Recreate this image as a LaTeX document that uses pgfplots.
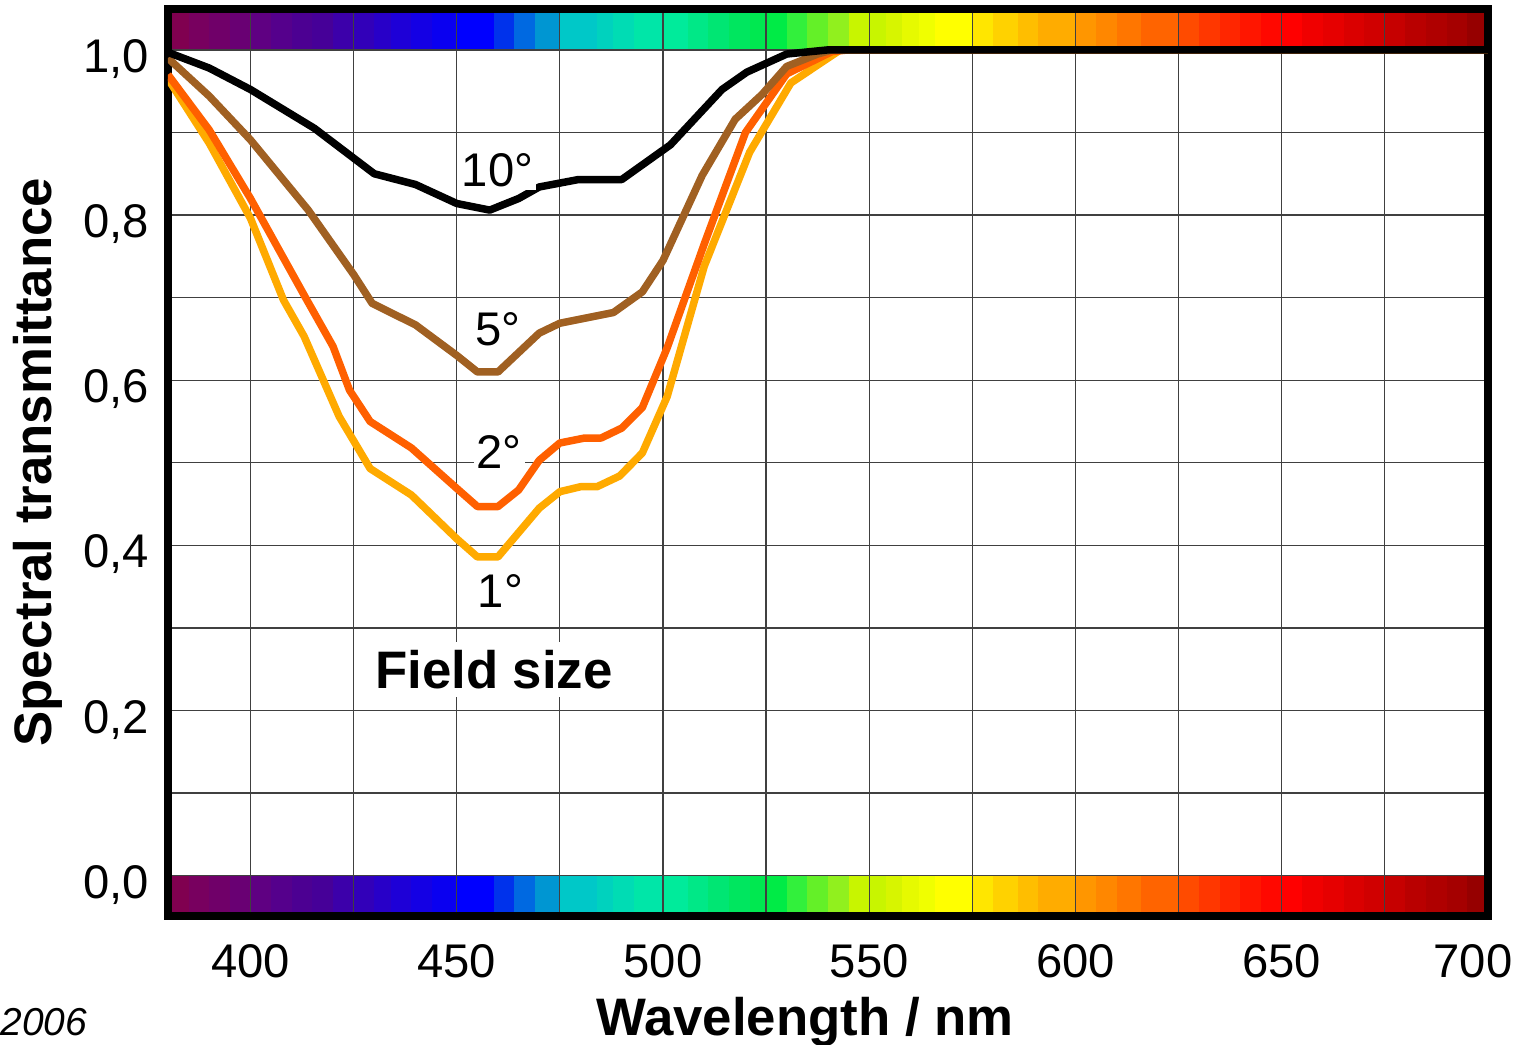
\documentclass[border=0pt]{standalone}
\usepackage{fontspec}
\setmainfont{Liberation Sans}
\usepackage{pgfplots}
\pgfplotsset{compat=1.18}

\definecolor{cone}{RGB}{255,170,0}
\definecolor{ctwo}{RGB}{255,96,0}
\definecolor{cfive}{RGB}{160,96,34}

\newcommand{\band}[5]{%
  \addplot[on layer=axis background, draw=none, fill={rgb,255:red,#3;green,#4;blue,#5}, forget plot]
    coordinates {(#1,1) (#2,1) (#2,1.07) (#1,1.07)} -- cycle;
  \addplot[on layer=axis background, draw=none, fill={rgb,255:red,#3;green,#4;blue,#5}, forget plot]
    coordinates {(#1,-0.07) (#2,-0.07) (#2,0) (#1,0)} -- cycle;
}

\begin{document}
\begin{tikzpicture}
\begin{axis}[
  set layers=standard,
  scale only axis, width=475.2pt, height=326.5pt,
  xmin=380, xmax=700, ymin=-0.0484, ymax=1.0499,
  xtick={400,450,500,550,600,650},
  extra x ticks={700},
  extra x tick style={grid=none, xticklabel style={xshift=-5.4pt}},
  minor xtick={425,475,525,575,625,675},
  ytick={0,0.2,0.4,0.6,0.8,1},
  minor ytick={0.1,0.3,0.5,0.7,0.9},
  grid=both,
  major grid style={black!75, line width=0.45pt},
  minor grid style={black!75, line width=0.45pt},
  major tick length=0pt, minor tick length=0pt,
  axis line style={line width=2.9pt},
  clip mode=individual,
  xticklabel style={font=\fontsize{17}{19}\selectfont, yshift=-7pt, /pgf/number format/assume math mode=true},
  yticklabel style={font=\fontsize{17}{19}\selectfont, xshift=-3.4pt, yshift=-3.3pt,
    /pgf/number format/.cd, fixed, fixed zerofill, precision=1, use comma, assume math mode=true},
]
\band{380}{385.3}{128}{0}{80}
\band{385}{390.3}{120}{0}{95}
\band{390}{395.3}{112}{0}{105}
\band{395}{400.3}{105}{0}{115}
\band{400}{405.3}{95}{0}{130}
\band{405}{410.3}{85}{0}{140}
\band{410}{415.3}{76}{0}{146}
\band{415}{420.3}{70}{0}{152}
\band{420}{425.3}{60}{0}{170}
\band{425}{430.3}{50}{0}{185}
\band{430}{434.3}{40}{0}{200}
\band{434}{439.3}{30}{0}{215}
\band{439}{444.3}{20}{0}{228}
\band{444}{450.3}{10}{0}{240}
\band{450}{459.3}{0}{0}{255}
\band{459}{464.3}{0}{50}{235}
\band{464}{469.3}{0}{105}{225}
\band{469}{475.3}{0}{150}{210}
\band{475}{484.3}{0}{200}{200}
\band{484}{488.3}{0}{210}{190}
\band{488}{493.3}{0}{220}{180}
\band{493}{500.3}{0}{230}{168}
\band{500}{506.3}{0}{235}{155}
\band{506}{511.3}{0}{232}{135}
\band{511}{516.3}{0}{230}{115}
\band{516}{521.3}{0}{230}{95}
\band{521}{525.3}{0}{232}{80}
\band{525}{530.3}{0}{235}{70}
\band{530}{535.3}{50}{240}{60}
\band{535}{540.3}{100}{240}{40}
\band{540}{545.3}{145}{240}{30}
\band{545}{554.3}{200}{245}{0}
\band{554}{558.3}{215}{245}{0}
\band{558}{562.3}{230}{250}{0}
\band{562}{566.3}{240}{255}{0}
\band{566}{575.3}{255}{255}{0}
\band{575}{580.3}{255}{230}{0}
\band{580}{586.3}{255}{210}{0}
\band{586}{591.3}{255}{190}{0}
\band{591}{600.3}{255}{172}{0}
\band{600}{605.3}{255}{150}{0}
\band{605}{610.3}{255}{135}{0}
\band{610}{616.3}{255}{118}{0}
\band{616}{625.3}{255}{100}{0}
\band{625}{630.3}{255}{75}{0}
\band{630}{635.3}{255}{55}{0}
\band{635}{640.3}{255}{38}{0}
\band{640}{645.3}{255}{22}{0}
\band{645}{650.3}{255}{8}{0}
\band{650}{655.3}{255}{0}{0}
\band{655}{660.3}{240}{0}{0}
\band{660}{665.3}{230}{0}{0}
\band{665}{670.3}{218}{0}{0}
\band{670}{675.3}{208}{0}{0}
\band{675}{680.3}{198}{0}{0}
\band{680}{685.3}{185}{0}{0}
\band{685}{690.3}{175}{0}{0}
\band{690}{695.3}{165}{0}{0}
\band{695}{701}{150}{0}{0}

% 1 degree
\addplot[cone, line width=2.7pt, line join=round] coordinates {
 (380,0.965) (390,0.887) (400,0.796) (408,0.697) (413,0.653) (421.5,0.556)
 (429,0.493) (439,0.461) (450,0.408) (455,0.386) (460,0.386) (470,0.445)
 (475,0.465) (480,0.471) (484,0.471) (489.5,0.484) (495,0.512) (501,0.580)
 (510,0.738) (521,0.876) (531,0.960) (543,1.0) (700,1.0)};
% 2 degrees
\addplot[ctwo, line width=2.7pt, line join=round] coordinates {
 (380,0.970) (390,0.903) (400,0.820) (413,0.703) (420,0.641) (424,0.588)
 (429,0.550) (439,0.518) (450,0.469) (455,0.447) (460,0.447) (465,0.467)
 (470,0.503) (475,0.524) (481,0.530) (485,0.530) (490,0.542) (495,0.567)
 (501,0.639) (510,0.765) (520,0.900) (530,0.971) (541,0.998) (545,1.0) (700,1.0)};
% 5 degrees
\addplot[cfive, line width=2.7pt, line join=round] coordinates {
 (380,0.990) (390,0.944) (400,0.891) (414,0.806) (425,0.728) (429.5,0.693)
 (440,0.667) (450,0.630) (455,0.610) (460,0.610) (470,0.657) (475,0.669)
 (488,0.682) (495,0.707) (500,0.745) (509.5,0.848) (517.5,0.916) (524,0.946)
 (530,0.980) (537.5,0.995) (541,1.0) (700,1.0)};
% 10 degrees
\addplot[black, line width=2.7pt, line join=round] coordinates {
 (380,0.997) (390,0.978) (400,0.952) (415.5,0.905) (430,0.850) (440,0.837)
 (450,0.814) (458,0.806) (465,0.820) (470,0.834) (479.5,0.843) (490,0.843)
 (501.8,0.885) (514.3,0.952) (520.3,0.973) (530,0.995) (540,1.0) (700,1.0)};

\node[font=\fontsize{17}{19}\selectfont, fill=white, inner sep=1pt] at (axis cs:459.9,0.854) {10°};
\node[font=\fontsize{17}{19}\selectfont, inner sep=0pt] at (axis cs:460.0,0.662) {5°};
\node[font=\fontsize{17}{19}\selectfont, fill=white, inner sep=1pt] at (axis cs:460.3,0.513) {2°};
\node[font=\fontsize{17}{19}\selectfont, fill=white, inner sep=1pt] at (axis cs:460.6,0.345) {1°};
\node[font=\bfseries\fontsize{19}{22}\selectfont, fill=white, inner sep=3pt] at (axis cs:459,0.25) {Field size};

\node[rotate=90, font=\bfseries\fontsize{19}{22}\selectfont] at (rel axis cs:-0.0985,0.5) {Spectral transmittance};
\node[anchor=base, font=\bfseries\fontsize{19}{22}\selectfont] at (rel axis cs:0.4826,-0.1317) {Wavelength / nm};
\node[anchor=base west, inner sep=0pt, font=\itshape\fontsize{14}{17}\selectfont] at (rel axis cs:-0.1273,-0.1317) {2006};

\coordinate (bbl) at (rel axis cs:-0.12727,-0.14256);
\coordinate (btr) at (rel axis cs:1.02273,1.00959);
\end{axis}
\pgfresetboundingbox
\useasboundingbox (bbl) rectangle (btr);
\end{tikzpicture}
\end{document}
